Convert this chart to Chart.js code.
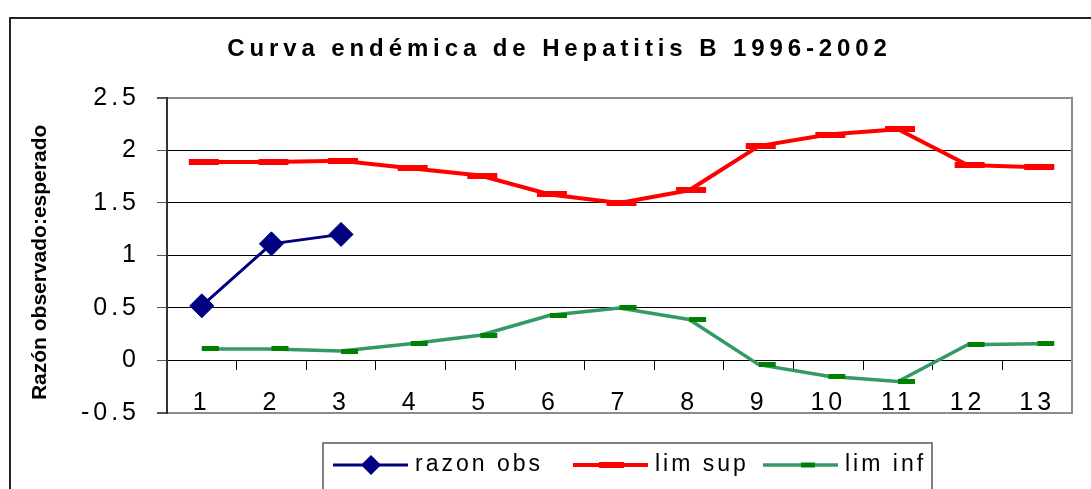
<!DOCTYPE html>
<html>
<head>
<meta charset="utf-8">
<script src="https://cdn.jsdelivr.net/npm/chart.js@4.4.1/dist/chart.umd.min.js"></script>
<style>
html,body{margin:0;padding:0;background:#fff;overflow:hidden}
#wrap{width:1091px;height:489px;position:relative}
</style>
</head>
<body>
<div id="wrap"><canvas id="c" width="1091" height="489"></canvas></div>
<script>
// ---- data ----
const categories = ['1','2','3','4','5','6','7','8','9','10','11','12','13'];
const razonObs = [0.52, 1.11, 1.20, null, null, null, null, null, null, null, null, null, null];
const limSup   = [1.89, 1.89, 1.90, 1.83, 1.76, 1.58, 1.50, 1.62, 2.04, 2.15, 2.20, 1.86, 1.84];
const limInf   = [0.11, 0.11, 0.09, 0.16, 0.24, 0.43, 0.50, 0.39, -0.04, -0.15, -0.20, 0.15, 0.16];
const seriesNames = ['razon obs', 'lim sup', 'lim inf'];
const yMin = -0.5, yMax = 2.5, yStep = 0.5;
const chartTitle = 'Curva endémica de Hepatitis B 1996-2002';
const yTitle = 'Razón observado:esperado';

const FONT = '"Liberation Sans", Arial, Helvetica, sans-serif';

function dashImage(w, h, x0, x1, color) {
  const c = document.createElement('canvas');
  c.width = w; c.height = h;
  const g = c.getContext('2d');
  g.fillStyle = color;
  g.fillRect(x0, 0, x1 - x0, h);
  return c;
}
const redDash = dashImage(36, 6, 5, 35, '#ff0000');
const greenDash = dashImage(36, 5, 18, 35, '#008000');

const spacingPlugin = {
  id: 'spacing',
  beforeDraw(chart) {
    const ctx = chart.ctx;
    const wrap = (obj, name, sp, dy) => {
      if (!obj || obj['__w_' + name]) return;
      const orig = obj[name];
      obj[name] = function (...a) {
        ctx.save();
        ctx.letterSpacing = sp;
        if (dy) ctx.translate(0, dy);
        const r = orig.apply(this, a);
        ctx.restore();
        return r;
      };
      obj['__w_' + name] = true;
    };
    wrap(chart.titleBlock, 'draw', '4.9px');
    wrap(chart.scales.x, 'drawLabels', '4px');
    wrap(chart.scales.y, 'drawLabels', '4px');
    wrap(chart.scales.y, 'drawTitle', '0px', 7);
  }
};

const framePlugin = {
  id: 'frame',
  beforeDraw(chart) {
    const ctx = chart.ctx;
    ctx.save();
    ctx.fillStyle = '#fff';
    ctx.fillRect(0, 0, chart.width, chart.height);
    ctx.strokeStyle = '#222';
    ctx.lineWidth = 2;
    ctx.strokeRect(10, 18, chart.width + 50, chart.height + 50);
    ctx.restore();
  },
  beforeDatasetsDraw(chart) {
    const ctx = chart.ctx, a = chart.chartArea;
    ctx.save();
    ctx.strokeStyle = '#8c8c8c';
    ctx.lineWidth = 2;
    ctx.beginPath();
    ctx.moveTo(a.right, a.top - 1);
    ctx.lineTo(a.right, a.bottom + 1);
    ctx.stroke();
    ctx.restore();
  }
};

const legendItemX = [333, 573, 763];
const legendPlugin = {
  id: 'boxLegend',
  afterDraw(chart) {
    const ctx = chart.ctx;
    ctx.save();
    ctx.strokeStyle = '#555';
    ctx.lineWidth = 1.5;
    ctx.strokeRect(323, 443, 609, 60);
    ctx.font = '23px ' + FONT;
    ctx.letterSpacing = '3px';
    ctx.textBaseline = 'middle';
    ctx.textAlign = 'left';
    const y = 465;
    chart.data.datasets.forEach((ds, i) => {
      const x = legendItemX[i];
      ctx.strokeStyle = ds.borderColor;
      ctx.lineWidth = ds.borderWidth;
      ctx.beginPath();
      ctx.moveTo(x, y);
      ctx.lineTo(x + 75, y);
      ctx.stroke();
      if (i === 0) {
        ctx.fillStyle = ds.pointBackgroundColor;
        ctx.beginPath();
        ctx.moveTo(x + 38 - 10, y);
        ctx.lineTo(x + 38, y - 10);
        ctx.lineTo(x + 38 + 10, y);
        ctx.lineTo(x + 38, y + 10);
        ctx.closePath();
        ctx.fill();
      } else if (i === 1) {
        ctx.fillStyle = '#ff0000';
        ctx.fillRect(x + 26, y - 3, 25, 6);
      } else {
        ctx.fillStyle = '#008000';
        ctx.fillRect(x + 38, y - 2.5, 14, 5);
      }
      ctx.fillStyle = '#000';
      ctx.fillText(ds.label, x + 82, y);
    });
    ctx.restore();
  }
};

const edge = v => v === yMax || v === yMin;

new Chart(document.getElementById('c'), {
  type: 'line',
  data: {
    labels: categories,
    datasets: [
      {
        label: seriesNames[0], data: razonObs,
        borderColor: '#000080', borderWidth: 3,
        pointStyle: 'rectRot', pointRadius: 12, pointBorderWidth: 1,
        pointBackgroundColor: '#000080', pointBorderColor: '#000080',
        tension: 0, spanGaps: false
      },
      {
        label: seriesNames[1], data: limSup,
        borderColor: '#ff0000', borderWidth: 4,
        pointStyle: redDash, pointRadius: 15,
        tension: 0
      },
      {
        label: seriesNames[2], data: limInf,
        borderColor: '#339966', borderWidth: 3.5,
        pointStyle: greenDash, pointRadius: 15,
        tension: 0
      }
    ]
  },
  options: {
    responsive: false,
    animation: false,
    events: [],
    devicePixelRatio: 1,
    layout: { padding: { left: 41, right: 13, top: 0, bottom: 76 } },
    plugins: {
      legend: { display: false },
      tooltip: { enabled: false },
      title: {
        display: true, text: chartTitle, color: '#000',
        font: { family: FONT, size: 24, weight: 'bold', lineHeight: 1.2 },
        padding: { top: 35, bottom: 34 }
      }
    },
    scales: {
      x: {
        type: 'category',
        offset: true,
        position: { y: 0 },
        grid: {
          offset: true, drawOnChartArea: false, drawTicks: true,
          tickLength: 9, tickColor: '#000', color: '#000', tickWidth: 1
        },
        border: { display: true, color: '#000', width: 1 },
        ticks: {
          color: '#000', font: { family: FONT, size: 25 },
          padding: 19, maxRotation: 0, autoSkip: false
        }
      },
      y: {
        min: yMin, max: yMax,
        ticks: {
          stepSize: yStep, color: '#000',
          font: { family: FONT, size: 25 }, padding: 17,
          callback: v => String(Number(v))
        },
        grid: {
          color: c => (c.tick && edge(c.tick.value)) ? '#8c8c8c' : '#000',
          lineWidth: c => (c.tick && edge(c.tick.value)) ? 2 : 1,
          tickColor: '#555', tickLength: 10, drawTicks: true
        },
        border: { display: true, color: '#333', width: 2 },
        title: {
          display: true, text: yTitle, color: '#000',
          font: { family: FONT, size: 21, weight: 'bold', lineHeight: 1 },
          padding: { top: -11, bottom: 0 }
        },
        afterFit(s) { s.width = 126; }
      }
    }
  },
  plugins: [framePlugin, spacingPlugin, legendPlugin]
});
</script>
</body>
</html>
